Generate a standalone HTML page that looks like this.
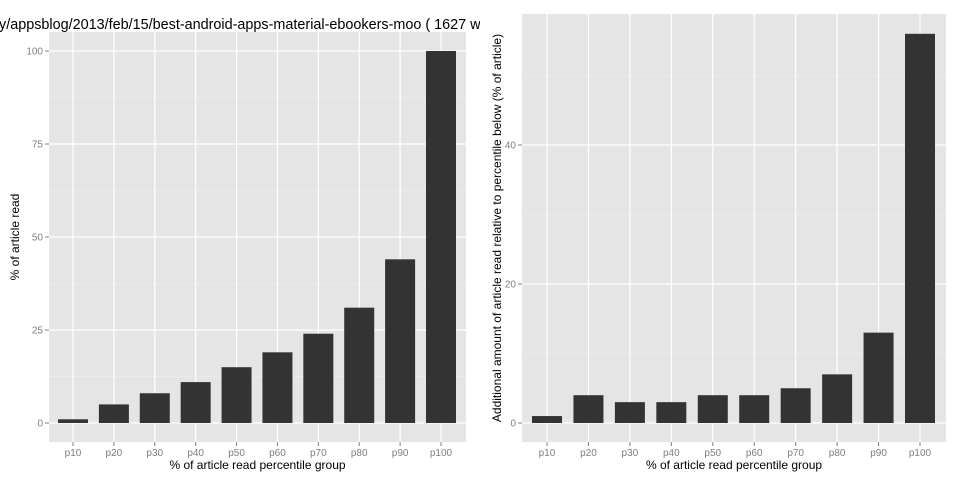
<!DOCTYPE html>
<html><head><meta charset="utf-8"><style>
html,body{margin:0;padding:0;background:#fff;width:960px;height:480px;overflow:hidden}
svg{display:block;font-family:"Liberation Sans",sans-serif}
</style></head><body>
<svg id="chart" width="960" height="480">
<defs><clipPath id="lc"><rect x="0" y="0" width="480" height="480"/></clipPath></defs>
<text x="-9" y="29" font-size="14.4" fill="#000" clip-path="url(#lc)">gy/appsblog/2013/feb/15/best-android-apps-material-ebookers-moo ( 1627 words )</text>
</svg>
<script>
const categories=["p10","p20","p30","p40","p50","p60","p70","p80","p90","p100"];
const leftValues=[1,5,8,11,15,19,24,31,44,100];
const rightValues=[1,4,3,3,4,4,5,7,13,56];
const leftTicks=[0,25,50,75,100];
const rightTicks=[0,20,40];
const svg=document.getElementById('chart');
const NS='http://www.w3.org/2000/svg';
function mk(tag,attrs,parent){const e=document.createElementNS(NS,tag);for(const k in attrs)e.setAttribute(k,attrs[k]);(parent||svg).appendChild(e);return e;}
function panel(p){
  const g=mk('g',{});
  
  
  const bg=mk('rect',{x:p.x0,y:p.y0,width:p.x1-p.x0,height:p.y1-p.y0,fill:'#e5e5e5'},g);
  
  
  const y=v=>p.zeroY-(v)*p.scale;
  const step=(p.lastX-p.firstX)/(categories.length-1);
  const x=i=>p.firstX+i*step;
  for(let i=0;i<p.ticks.length;i++){
    const mv=p.ticks[i]+(p.ticks[1]-p.ticks[0])/2;
    if(y(mv)>p.y0) mk('line',{x1:p.x0,x2:p.x1,y1:y(mv),y2:y(mv),stroke:'#f2f2f2','stroke-width':0.6},g);
  }
  p.ticks.forEach(t=>{
    mk('line',{x1:p.x0,x2:p.x1,y1:y(t),y2:y(t),stroke:'#fff','stroke-width':1.2},g);
    mk('line',{x1:p.x0-4,x2:p.x0,y1:y(t),y2:y(t),stroke:'#7f7f7f','stroke-width':1},g);
    const tl=mk('text',{x:p.x0-6,y:y(t)+3.5,'text-anchor':'end','font-size':10,fill:'#7f7f7f'},g);
    tl.textContent=t;
    
    
  });
  categories.forEach((c,i)=>{
    mk('line',{x1:x(i),x2:x(i),y1:p.y0,y2:p.y1,stroke:'#fff','stroke-width':1.2},g);
    mk('line',{x1:x(i),x2:x(i),y1:p.y1,y2:p.y1+4,stroke:'#7f7f7f','stroke-width':1},g);
    const tl=mk('text',{x:x(i),y:p.y1+14,'text-anchor':'middle','font-size':10,fill:'#7f7f7f'},g);
    tl.textContent=c;
    
    
  });
  p.values.forEach((v,i)=>{
    const b=mk('rect',{x:x(i)-15,y:y(v),width:30,height:y(0)-y(v),fill:'#333333'},g);
    
    
  });
  const xt=mk('text',{x:(p.x0+p.x1)/2,y:469,'text-anchor':'middle','font-size':12,fill:'#000'},g);
  xt.textContent='% of article read percentile group';
  
  
  const yt=mk('text',{x:0,y:0,'text-anchor':'middle','font-size':12,fill:'#000',transform:`translate(${p.ytX},${p.ytY}) rotate(-90)`},g);
  yt.textContent=p.ytitle;
  
  
}
panel({name:'left-panel',x0:49,x1:466,y0:32,y1:442,zeroY:423,scale:3.72,firstX:73,lastX:441,values:leftValues,ticks:leftTicks,ytitle:'% of article read',ytX:19,ytY:237});
panel({name:'right-panel',x0:522,x1:946,y0:14,y1:442,zeroY:423,scale:6.95,firstX:547,lastX:920,values:rightValues,ticks:rightTicks,ytitle:'Additional amount of article read relative to percentile below (% of article)',ytX:501,ytY:228});
</script>
</body></html>
